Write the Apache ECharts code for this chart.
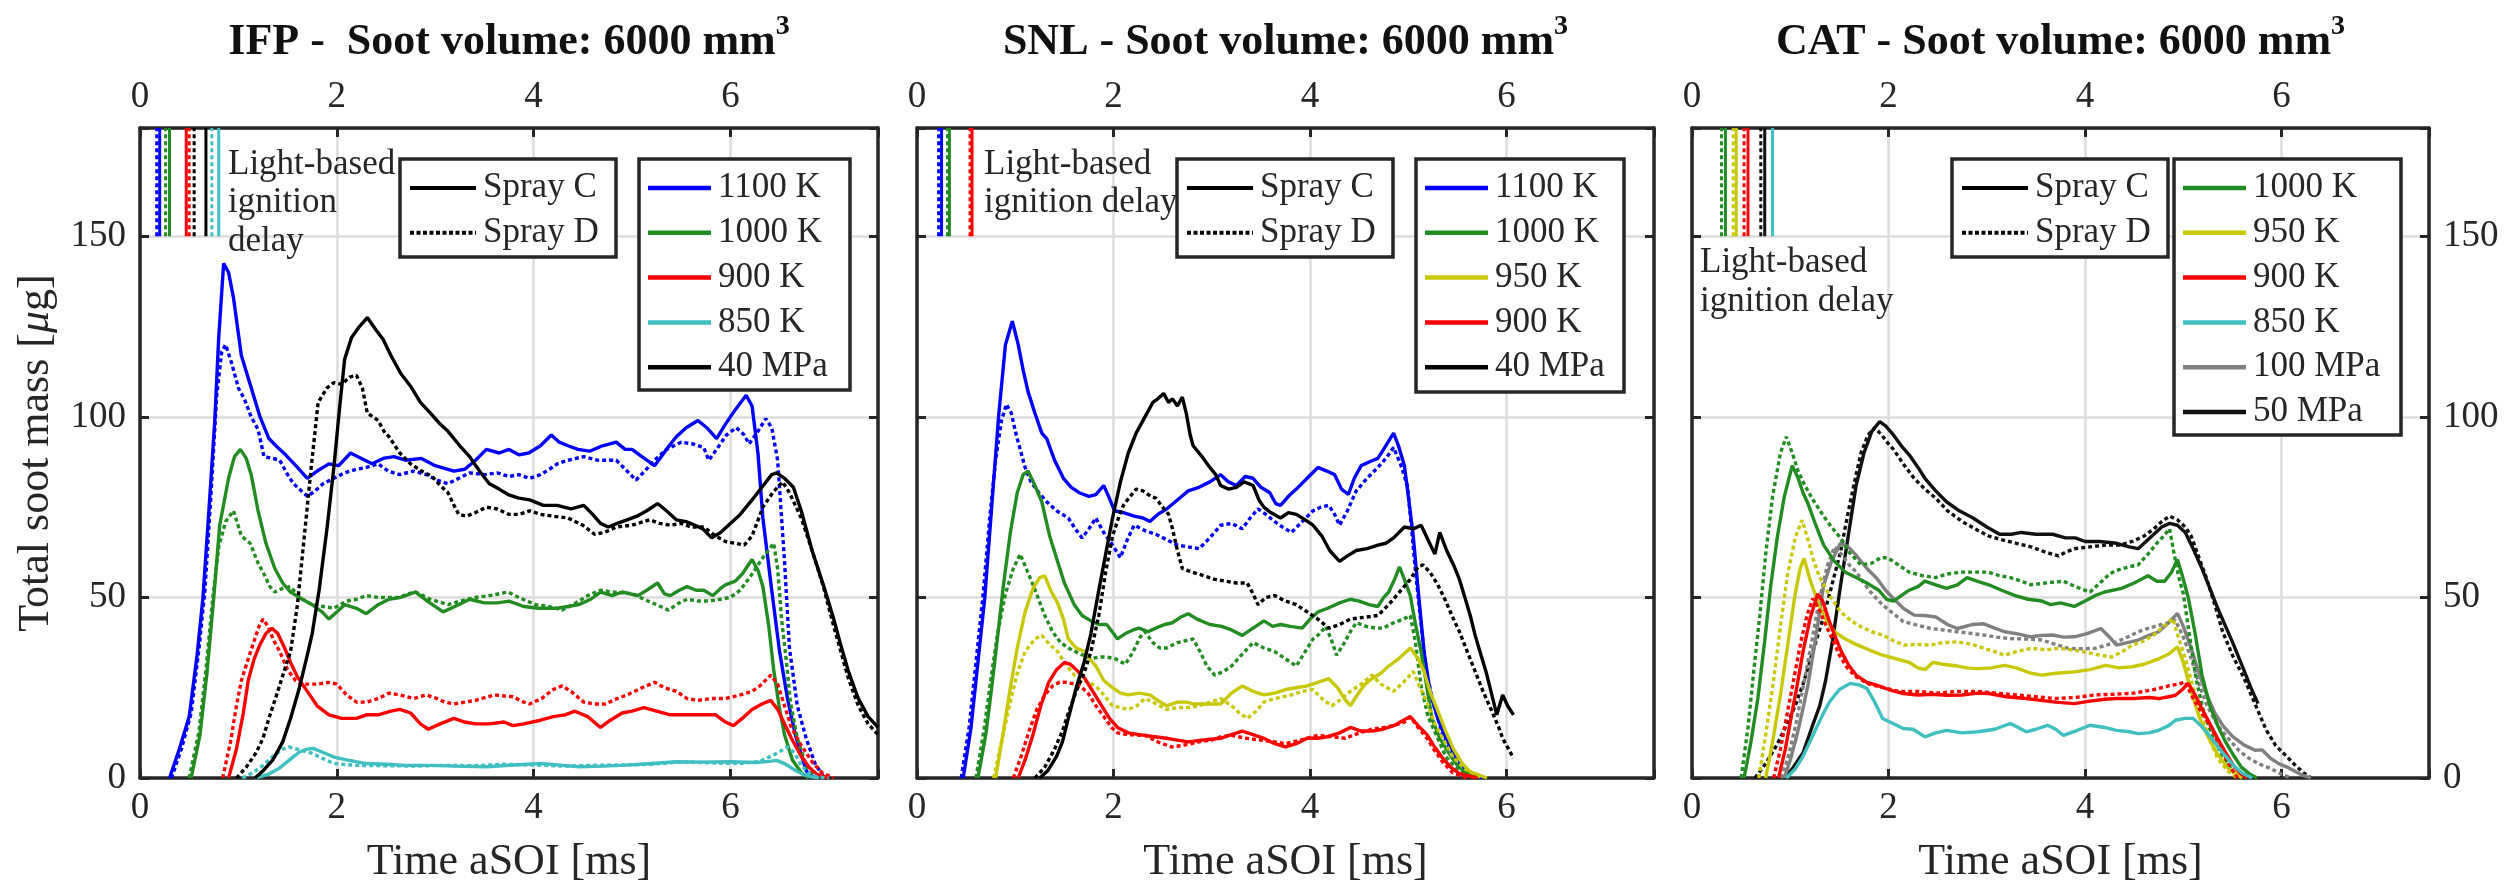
<!DOCTYPE html>
<html><head><meta charset="utf-8">
<script src="https://cdn.jsdelivr.net/npm/echarts@6/dist/echarts.min.js"></script>
<style>html,body{margin:0;padding:0;background:#fff}#c{width:2514px;height:888px}</style>
</head><body><div id="c"></div>
<script>
// ---------------- DATA ----------------
const X_TICK_STEP = 2;      // x ticks 0,2,4,6
const Y_TICK_STEP = 50;     // y ticks 0,50,100,150
const X_MAX = 7.5, Y_MAX = 180;

const TITLES = ['IFP -  Soot volume: 6000 mm', 'SNL - Soot volume: 6000 mm', 'CAT - Soot volume: 6000 mm'];
const IFP_LEGEND = ['1100 K', '1000 K', '900 K', '850 K', '40 MPa'];
const SNL_LEGEND = ['1100 K', '1000 K', '950 K', '900 K', '40 MPa'];
const CAT_LEGEND = ['1000 K', '950 K', '900 K', '850 K', '100 MPa', '50 MPa'];
const SPRAY_LEGEND = ['Spray C', 'Spray D'];

// IFP
const IFP_1100_C = [[0.3,0],[0.4,8],[0.5,17],[0.58,34],[0.64,50],[0.7,74],[0.76,99],[0.8,122],[0.85,142.5],[0.9,140],[0.95,133],[1.03,117],[1.12,109],[1.22,100],[1.31,94],[1.4,91.5],[1.48,89.5],[1.6,86],[1.7,83],[1.8,85],[1.92,87],[2.02,86.5],[2.14,90],[2.25,88.5],[2.36,87],[2.47,88.5],[2.58,89],[2.7,88],[2.86,88.5],[3.0,86.5],[3.19,85],[3.3,85.5],[3.41,88],[3.52,91],[3.65,90],[3.75,91],[3.85,89.5],[3.95,90],[4.07,92],[4.18,95],[4.26,93],[4.35,92],[4.45,91],[4.57,90.5],[4.7,92],[4.84,93],[4.93,91],[5.0,91],[5.1,89],[5.23,86.5],[5.35,91],[5.45,94.5],[5.55,97],[5.67,99],[5.76,97],[5.86,94],[5.95,98],[6.05,102],[6.16,106],[6.22,103],[6.28,90],[6.33,72],[6.42,52],[6.5,35],[6.58,22],[6.66,12],[6.77,2],[6.85,0]];
const IFP_1100_D = [[0.32,0],[0.42,8],[0.52,18],[0.6,36],[0.66,52],[0.72,78],[0.78,106],[0.83,118],[0.87,120],[0.93,115],[1.0,108],[1.06,105],[1.13,100],[1.2,96.5],[1.26,89],[1.35,88.5],[1.42,88],[1.5,84],[1.56,81.5],[1.7,78],[1.78,79.5],[1.86,81.5],[1.97,83],[2.08,84.5],[2.2,85.5],[2.3,86],[2.42,87],[2.52,85],[2.64,84],[2.78,85],[2.91,84],[3.02,82.5],[3.13,81.5],[3.24,83],[3.35,84.5],[3.5,84],[3.63,84.5],[3.75,83.5],[3.85,84],[3.96,83],[4.07,84],[4.16,85.5],[4.24,87],[4.35,88],[4.51,89],[4.65,88],[4.84,88],[4.95,85],[5.04,82.5],[5.13,85],[5.23,88],[5.35,91],[5.5,93],[5.62,92.5],[5.73,91.5],[5.78,88],[5.86,91],[5.96,95],[6.06,97],[6.14,95],[6.19,92.5],[6.28,96],[6.36,99.5],[6.42,97],[6.48,88],[6.55,60],[6.6,36],[6.68,20],[6.77,11],[6.86,4],[6.94,0.7],[7.0,0]];
const IFP_1000_C = [[0.52,0],[0.61,12],[0.68,29],[0.75,50],[0.81,70],[0.9,83],[0.96,89],[1.02,91],[1.08,88.5],[1.13,84],[1.2,74],[1.28,65],[1.37,58],[1.45,54],[1.53,51.5],[1.65,49.5],[1.75,48],[1.85,46],[1.92,44],[2.0,46],[2.08,48],[2.2,47],[2.3,45.5],[2.42,48],[2.53,49.5],[2.65,50],[2.8,51.5],[2.92,49],[3.08,46],[3.2,47.5],[3.35,49.5],[3.5,48.5],[3.63,48.5],[3.75,49],[3.9,47.5],[4.05,47],[4.24,47],[4.35,47.5],[4.46,48],[4.58,49.5],[4.68,51.5],[4.8,50.5],[4.9,51.5],[5.06,50.5],[5.15,52],[5.26,54],[5.33,51],[5.39,50.5],[5.48,52],[5.56,53],[5.65,52],[5.73,52],[5.82,50.5],[5.9,52.5],[5.95,53.5],[6.05,54.5],[6.12,56.5],[6.22,60.5],[6.28,57.5],[6.33,53],[6.39,42],[6.44,30],[6.5,19],[6.55,12],[6.63,5],[6.72,1.5],[6.8,0]];
const IFP_1000_D = [[0.5,0],[0.6,13],[0.67,30],[0.74,50],[0.8,64],[0.87,71],[0.95,74],[1.03,67],[1.12,65],[1.2,59.5],[1.26,56.5],[1.32,53],[1.37,51.5],[1.45,52.5],[1.53,53],[1.62,50],[1.75,48],[1.86,47.5],[1.97,47],[2.1,49],[2.2,49.5],[2.3,50.5],[2.42,50],[2.55,50],[2.64,50],[2.72,51],[2.8,51.5],[2.95,49.5],[3.13,48],[3.25,49],[3.41,50],[3.55,50.5],[3.74,51.5],[3.85,50],[4.02,48],[4.15,47.5],[4.29,46.5],[4.4,48],[4.55,50.5],[4.68,52],[4.8,51.5],[5.01,51],[5.12,49.5],[5.25,48],[5.37,46.5],[5.48,48.5],[5.56,49.5],[5.67,49],[5.78,49],[5.9,49.5],[6.0,50],[6.1,52],[6.22,56.5],[6.33,61],[6.44,65],[6.48,58],[6.52,44],[6.57,32],[6.61,21],[6.68,11],[6.77,3.5],[6.85,1],[6.92,0]];
const IFP_900_C = [[0.9,0],[0.98,8],[1.05,18],[1.1,27],[1.16,33],[1.22,37],[1.28,40],[1.34,41.5],[1.4,40],[1.47,36],[1.53,32],[1.6,28],[1.7,24],[1.8,20],[1.92,17.5],[2.05,16.5],[2.2,16.5],[2.3,17.5],[2.42,17.5],[2.55,18.5],[2.64,19],[2.75,18],[2.85,15],[2.93,13.5],[3.05,15],[3.19,16.5],[3.3,15.5],[3.41,15],[3.55,15],[3.7,15.5],[3.79,14.5],[3.9,15],[4.07,16],[4.2,17],[4.32,17.5],[4.42,18.5],[4.55,17],[4.68,14],[4.78,16],[4.9,18],[5.0,18.5],[5.12,19.5],[5.25,18.5],[5.39,17.5],[5.55,17.5],[5.73,17.5],[5.85,17.5],[5.95,15.5],[6.03,14.5],[6.12,16.5],[6.22,19],[6.32,20.5],[6.41,21.5],[6.48,19],[6.55,15],[6.62,11],[6.72,6],[6.8,3],[6.88,1],[7.0,0]];
const IFP_900_D = [[0.84,0],[0.92,10],[0.98,20],[1.03,27],[1.1,33],[1.16,38],[1.21,42],[1.25,44],[1.3,42],[1.36,38],[1.42,35],[1.5,30],[1.58,27],[1.64,26],[1.75,26],[1.81,26],[1.92,26.5],[2.0,26],[2.1,23],[2.2,21],[2.3,21],[2.42,22],[2.53,23.5],[2.64,23],[2.78,22],[2.91,23],[3.02,22],[3.1,21],[3.19,20.5],[3.3,21],[3.41,21.5],[3.6,23],[3.79,22.5],[3.9,21],[3.96,20.5],[4.08,22],[4.2,24.5],[4.29,25.5],[4.38,24],[4.51,21],[4.62,20.5],[4.73,20.5],[4.85,22],[4.95,23],[5.1,25],[5.23,26.5],[5.33,25],[5.45,24],[5.56,22],[5.67,21.5],[5.8,22],[5.95,22],[6.1,23],[6.22,24],[6.3,25.5],[6.41,28.5],[6.48,26],[6.55,20],[6.62,14],[6.72,9],[6.83,4.5],[6.93,1.5],[7.05,0]];
const IFP_850_C = [[1.17,0],[1.3,1],[1.42,2.8],[1.52,5],[1.62,7.2],[1.7,8],[1.76,8.2],[1.85,7.2],[1.97,5.8],[2.1,5],[2.3,4],[2.5,3.8],[2.7,3.5],[2.97,3.5],[3.2,3.3],[3.52,3.1],[3.8,3.6],[4.07,4],[4.3,3.5],[4.46,3.1],[4.7,3.3],[4.9,3.5],[5.2,4],[5.45,4.5],[5.7,4.4],[6.0,4.5],[6.25,4.3],[6.4,4.6],[6.47,4.9],[6.55,4],[6.66,2.1],[6.75,0.9],[6.83,0.3],[6.9,0]];
const IFP_850_D = [[1.04,0],[1.15,1.5],[1.25,3.5],[1.35,6],[1.45,8],[1.51,8.6],[1.6,8],[1.75,6.8],[1.85,5.5],[1.97,4],[2.2,3.5],[2.5,3.4],[2.8,3.3],[3.1,3.5],[3.4,3.4],[3.7,3.8],[4.0,3.6],[4.3,3.3],[4.6,3.5],[4.9,3.6],[5.2,3.8],[5.5,4.5],[5.8,4.2],[6.1,4],[6.3,4.6],[6.45,6.5],[6.58,8.6],[6.65,7],[6.72,3.5],[6.8,1.2],[6.88,0.3],[7.0,0]];
const IFP_40MPA_C = [[1.17,0],[1.25,2],[1.35,5],[1.45,10],[1.53,16.5],[1.62,25],[1.7,34],[1.75,40],[1.82,52],[1.9,69],[1.97,86],[2.03,103],[2.08,116],[2.15,122],[2.23,125],[2.31,127.5],[2.4,124],[2.47,121.5],[2.55,117],[2.65,112],[2.75,108.5],[2.85,104],[2.97,100.5],[3.05,98],[3.13,96],[3.25,92],[3.35,89],[3.45,85],[3.55,81.5],[3.65,80],[3.74,78.5],[3.85,77.5],[3.96,77],[4.1,75.5],[4.24,75.5],[4.38,74.5],[4.51,75.5],[4.6,73],[4.68,70.5],[4.76,69.5],[4.85,70.5],[4.95,71.5],[5.05,72.5],[5.15,74],[5.26,76],[5.35,74],[5.45,71.5],[5.55,71],[5.64,70],[5.72,69],[5.81,66.5],[5.9,68],[6.0,70.5],[6.1,73],[6.22,77],[6.32,80.5],[6.42,84],[6.47,84.5],[6.55,83],[6.64,80.5],[6.72,74],[6.83,63],[6.95,53],[7.05,44],[7.12,37],[7.2,29.5],[7.3,22],[7.4,17],[7.5,14]];
const IFP_40MPA_D = [[0.98,0],[1.08,3],[1.18,7],[1.25,11],[1.31,16.5],[1.4,24],[1.47,30],[1.53,35],[1.6,48],[1.67,67],[1.74,86],[1.81,104],[1.9,108],[1.97,109.5],[2.05,109],[2.13,111],[2.2,111.5],[2.26,108],[2.31,101],[2.37,100],[2.42,99],[2.48,96],[2.53,94.5],[2.64,90],[2.75,87],[2.86,85],[2.97,83.5],[3.05,81],[3.13,79],[3.2,75],[3.24,73],[3.32,72.5],[3.41,73.5],[3.52,75],[3.63,74.5],[3.75,73],[3.85,73],[3.96,74],[4.07,73],[4.2,72.5],[4.35,72],[4.5,70],[4.62,67.5],[4.72,68],[4.84,69.5],[5.0,70],[5.18,71.5],[5.28,70.5],[5.39,70],[5.5,70.5],[5.6,69.5],[5.73,69.5],[5.85,67],[5.95,65.5],[6.05,65],[6.14,64.5],[6.22,67],[6.33,75],[6.43,79],[6.53,82],[6.6,79],[6.72,72],[6.83,63],[6.94,53.5],[7.05,42],[7.2,27.5],[7.3,20],[7.4,15],[7.5,12]];
// ignition delay marks: [condition, spray, time ms]
const IFP_IGN = [['1100 K','D',0.17],['1100 K','C',0.20],['1000 K','D',0.26],['1000 K','C',0.30],['900 K','C',0.47],['900 K','D',0.50],['40 MPa','D',0.55],['40 MPa','C',0.67],['850 K','D',0.73],['850 K','C',0.80]];

// SNL
const SNL_1100_C = [[0.47,0],[0.55,14],[0.62,32],[0.69,50],[0.76,75],[0.83,100],[0.9,120],[0.97,126.5],[1.03,120],[1.08,113],[1.13,107],[1.2,101],[1.27,95.5],[1.32,94],[1.4,88],[1.49,83],[1.57,80.5],[1.65,79],[1.75,78],[1.82,78.5],[1.9,81],[1.95,78],[2.01,74],[2.1,73.5],[2.21,72.5],[2.3,72],[2.37,71],[2.45,73],[2.54,74.5],[2.65,77],[2.76,79.5],[2.87,80.5],[2.98,82],[3.09,84],[3.17,82],[3.25,81],[3.34,83.5],[3.42,83],[3.5,80.5],[3.59,79],[3.65,76],[3.7,75.5],[3.78,78],[3.86,80],[3.97,83],[4.08,86],[4.17,85],[4.25,84],[4.32,80],[4.39,78.5],[4.45,83],[4.52,86.5],[4.6,87.5],[4.69,88.5],[4.77,92],[4.85,95.5],[4.9,92],[4.96,86.5],[5.0,78],[5.05,67],[5.1,52],[5.16,35],[5.22,24],[5.3,16.5],[5.38,11],[5.46,7],[5.55,3.5],[5.63,1.5],[5.75,0]];
const SNL_1100_D = [[0.45,0],[0.53,14],[0.6,32],[0.67,50],[0.74,72],[0.8,88],[0.86,99],[0.91,103.5],[0.96,101],[1.01,95],[1.05,91],[1.1,86],[1.16,82],[1.24,79],[1.32,76.5],[1.42,74],[1.54,72],[1.61,69],[1.68,66.5],[1.75,69],[1.82,72],[1.9,68],[1.99,64.5],[2.07,61],[2.14,66],[2.21,70],[2.32,68.5],[2.43,67.5],[2.54,66],[2.65,64.5],[2.76,64],[2.87,63.5],[2.98,66.5],[3.09,70],[3.2,70.5],[3.31,69],[3.39,72],[3.47,74.5],[3.55,73],[3.64,71],[3.72,69.5],[3.81,68],[3.92,71],[4.03,74],[4.11,75],[4.19,75.5],[4.25,73],[4.3,70],[4.38,74],[4.47,79.5],[4.58,83],[4.69,86],[4.77,88.5],[4.85,91.5],[4.92,87],[4.99,81],[5.03,70],[5.07,58],[5.12,45],[5.18,30],[5.26,20],[5.35,12],[5.44,7],[5.52,3.5],[5.6,1.3],[5.7,0]];
const SNL_1000_C = [[0.62,0],[0.7,12],[0.76,25],[0.82,39],[0.88,53.5],[0.95,68],[1.02,79],[1.08,84],[1.13,85],[1.2,81],[1.27,76.5],[1.35,67],[1.43,60],[1.5,54],[1.6,48],[1.68,45],[1.77,43.5],[1.85,42.5],[1.93,42.5],[2.0,40],[2.04,38.5],[2.12,40],[2.2,41],[2.26,41.5],[2.35,40.5],[2.43,41.5],[2.52,42.5],[2.6,43],[2.68,44.5],[2.76,45.5],[2.85,44],[2.98,42.5],[3.1,42],[3.2,41],[3.31,39.5],[3.42,41.5],[3.53,43.5],[3.62,42],[3.7,42.5],[3.8,42],[3.92,41.5],[4.0,44],[4.08,46],[4.18,47],[4.3,48.5],[4.41,49.5],[4.5,49],[4.6,48],[4.69,47.5],[4.75,50],[4.8,51.5],[4.86,55],[4.91,58.5],[4.96,55],[5.02,50.5],[5.07,43],[5.13,35],[5.19,25],[5.24,16.5],[5.32,11],[5.41,7],[5.5,3.5],[5.57,1.7],[5.7,0]];
const SNL_1000_D = [[0.6,0],[0.68,13],[0.75,27],[0.82,40],[0.9,51],[0.98,58],[1.05,62],[1.12,57.5],[1.21,51.5],[1.3,45],[1.38,40.5],[1.46,37.5],[1.54,36],[1.65,34.5],[1.77,33],[1.85,33.5],[1.93,33.5],[2.02,33],[2.12,31.5],[2.2,35],[2.27,39],[2.32,40.5],[2.4,37.5],[2.47,36],[2.54,36],[2.65,37.5],[2.73,38],[2.81,38.5],[2.88,35],[2.95,31],[3.03,28.5],[3.12,29.5],[3.2,31],[3.3,34],[3.42,37.5],[3.53,36],[3.64,35],[3.75,33],[3.86,31],[3.95,35],[4.03,38.5],[4.1,40],[4.16,42],[4.22,38],[4.27,34],[4.35,37.5],[4.42,41],[4.47,43],[4.57,42],[4.67,41.5],[4.74,41.5],[4.85,43],[4.95,44],[5.02,45],[5.07,38],[5.13,25.5],[5.2,17],[5.3,11],[5.38,6],[5.46,3.5],[5.55,1.3],[5.7,0]];
const SNL_950_C = [[0.8,0],[0.88,13],[0.95,25],[1.02,36],[1.1,46],[1.18,52.5],[1.25,55.5],[1.3,56],[1.36,52],[1.43,48.5],[1.49,44],[1.54,38.5],[1.62,36],[1.71,35],[1.76,33],[1.82,31],[1.9,27],[1.99,25],[2.07,23.5],[2.15,23],[2.26,23.5],[2.37,23],[2.45,21.5],[2.54,20],[2.65,21],[2.74,21],[2.81,20.5],[2.95,20.5],[3.09,20.5],[3.2,23.5],[3.31,25.5],[3.42,24],[3.53,23],[3.64,23.5],[3.75,24.5],[3.86,25],[3.97,25.5],[4.08,26.5],[4.19,27.5],[4.28,25],[4.35,22],[4.41,20],[4.48,23],[4.56,26],[4.63,27.5],[4.72,29],[4.8,31],[4.9,33],[4.96,34.5],[5.02,36],[5.1,33],[5.16,29.5],[5.22,24],[5.3,18.5],[5.38,13],[5.46,8],[5.55,4],[5.63,1.7],[5.8,0]];
const SNL_950_D = [[0.78,0],[0.86,10],[0.94,20],[1.02,29],[1.1,35],[1.2,38.5],[1.27,39.5],[1.35,37],[1.43,35],[1.5,32],[1.6,28.5],[1.7,27],[1.82,25.5],[1.9,23],[1.99,20],[2.07,19.5],[2.15,19],[2.24,20],[2.32,22],[2.4,21],[2.54,19],[2.65,19.5],[2.76,19.5],[2.87,20],[2.98,21],[3.09,22],[3.2,20],[3.28,18],[3.36,16.5],[3.45,18.5],[3.53,21],[3.64,22],[3.81,23],[3.92,24],[4.03,24.5],[4.12,22],[4.22,20],[4.3,21.5],[4.41,24],[4.52,26],[4.63,28.5],[4.72,26],[4.85,24],[4.95,26.5],[5.05,29.5],[5.12,25],[5.19,21],[5.27,15],[5.35,11],[5.45,6],[5.57,2.6],[5.75,0]];
const SNL_900_C = [[1.03,0],[1.1,5],[1.18,12],[1.26,20],[1.34,26.5],[1.42,30],[1.5,32],[1.56,31.5],[1.64,29.5],[1.71,27.5],[1.8,23.5],[1.88,20],[1.96,16.5],[2.04,14],[2.15,12.5],[2.26,12],[2.4,11.5],[2.54,11],[2.65,10.5],[2.76,10],[2.9,10.5],[3.09,11],[3.2,12],[3.31,13],[3.42,12],[3.53,11],[3.64,9.5],[3.75,8.6],[3.86,9.5],[3.97,11],[4.08,11],[4.19,11.5],[4.3,12.5],[4.41,14],[4.52,13],[4.63,13],[4.74,13.5],[4.85,14.5],[4.95,16],[5.02,17],[5.1,14.5],[5.19,12],[5.27,8.5],[5.35,5.5],[5.43,3],[5.52,1.2],[5.7,0]];
const SNL_900_D = [[0.98,0],[1.06,6],[1.14,13],[1.22,19],[1.3,23],[1.38,25.5],[1.45,26.5],[1.52,26.5],[1.6,26],[1.66,25.5],[1.74,23.5],[1.82,20],[1.9,17],[1.98,14],[2.04,12.5],[2.15,12],[2.32,11.8],[2.45,10],[2.59,8.6],[2.7,9],[2.87,10],[3.0,10.5],[3.1,11.5],[3.2,11.8],[3.35,11],[3.53,10.4],[3.64,10],[3.75,9.5],[3.9,10.5],[4.08,11.8],[4.2,11.5],[4.36,11],[4.5,12.5],[4.63,13.5],[4.75,14],[4.85,14.5],[4.96,15.5],[5.02,16.9],[5.1,14],[5.19,11],[5.27,7.5],[5.35,4.4],[5.45,1.5],[5.6,0]];
const SNL_40MPA_C = [[1.25,0],[1.33,2],[1.42,6],[1.48,10],[1.54,16.5],[1.62,25],[1.7,32],[1.77,40],[1.85,52],[1.92,62],[1.99,72],[2.07,82],[2.15,90],[2.23,95.5],[2.32,100],[2.4,104],[2.45,105],[2.51,106.5],[2.56,104],[2.6,105],[2.65,103],[2.7,105.5],[2.74,101],[2.78,95],[2.81,92],[2.9,89],[2.98,86],[3.04,84],[3.09,81],[3.17,80],[3.25,80.5],[3.33,82],[3.42,81],[3.48,77],[3.53,75],[3.6,73.5],[3.7,72],[3.78,73.5],[3.86,73],[3.95,71.5],[4.03,70],[4.12,67],[4.2,63],[4.3,60],[4.38,61.5],[4.47,63],[4.58,63.5],[4.69,64.5],[4.77,65],[4.85,66.5],[4.96,69.5],[5.05,69],[5.13,70],[5.2,66],[5.27,62],[5.32,68],[5.39,63],[5.46,59],[5.52,55],[5.57,50.5],[5.63,45],[5.68,39.5],[5.74,34],[5.79,29.5],[5.85,23],[5.9,17.5],[5.96,23],[6.01,20],[6.07,17.5]];
const SNL_40MPA_D = [[1.2,0],[1.3,3],[1.4,8],[1.48,13],[1.54,18],[1.62,24],[1.7,29],[1.77,35],[1.85,45],[1.92,57],[1.99,67],[2.05,72],[2.1,75.5],[2.17,78],[2.23,80],[2.3,79.5],[2.38,78],[2.43,77.5],[2.5,75],[2.56,73],[2.6,69],[2.65,63],[2.7,58],[2.8,57],[2.92,56],[3.03,55],[3.14,54.5],[3.25,54],[3.36,54],[3.42,51],[3.47,48],[3.55,50],[3.64,50.5],[3.75,49],[3.86,48],[3.97,46],[4.08,44],[4.19,41.5],[4.3,42.5],[4.41,44],[4.55,44.5],[4.69,45],[4.8,48],[4.91,51.5],[5.02,55],[5.1,58.5],[5.15,59],[5.22,57],[5.3,53.5],[5.38,49],[5.46,44],[5.52,40.5],[5.6,35],[5.68,29.5],[5.76,24],[5.85,18.5],[5.92,14],[5.96,11],[6.02,8],[6.07,5.5]];
const SNL_IGN = [['1100 K','D',0.22],['1100 K','C',0.25],['1000 K','D',0.31],['1000 K','C',0.33],['900 K','D',0.54],['900 K','C',0.56]];

// CAT
const CAT_1000_C = [[0.53,0],[0.6,10],[0.67,22],[0.74,38],[0.8,53],[0.87,67],[0.94,78],[1.02,86.5],[1.08,83],[1.13,79],[1.18,76],[1.26,70],[1.34,64.5],[1.45,60],[1.56,57],[1.67,55.5],[1.78,54],[1.9,52],[1.98,49.5],[2.05,49],[2.13,50.5],[2.21,52],[2.3,53],[2.37,54.5],[2.48,53.5],[2.59,52.5],[2.7,53.5],[2.8,55.5],[2.9,54.5],[3.02,53.5],[3.15,52],[3.29,50.5],[3.42,49.5],[3.56,49],[3.65,48],[3.75,48.5],[3.89,47.5],[4.0,49],[4.1,50.5],[4.2,51.5],[4.37,52.5],[4.5,54],[4.64,56],[4.73,54.5],[4.81,54.5],[4.88,57],[4.94,60.5],[4.99,56],[5.05,50],[5.12,40],[5.19,28.5],[5.27,20],[5.35,14.5],[5.43,10],[5.51,6.3],[5.59,3],[5.67,1.2],[5.75,0]];
const CAT_1000_D = [[0.5,0],[0.57,14],[0.63,30],[0.69,45],[0.75,62],[0.82,78],[0.9,90],[0.96,94.5],[1.02,90],[1.08,85],[1.13,82],[1.22,77.5],[1.34,72.5],[1.42,69.5],[1.51,66.5],[1.6,62.5],[1.72,59],[1.83,59.5],[1.92,61],[1.99,61],[2.1,59],[2.21,57],[2.35,56],[2.48,55.5],[2.6,56.5],[2.75,57],[2.9,57],[3.02,57],[3.13,56],[3.24,55.5],[3.35,54.5],[3.45,53.5],[3.6,54],[3.78,54.5],[3.9,53],[4.05,51.5],[4.15,54],[4.25,56.5],[4.32,57.5],[4.45,58.5],[4.54,59],[4.64,62],[4.73,65],[4.8,67],[4.86,69],[4.9,63],[4.95,56],[5.0,51],[5.06,40],[5.13,27.5],[5.2,19],[5.29,12],[5.4,6],[5.51,1.7],[5.6,0]];
const CAT_950_C = [[0.75,0],[0.82,10],[0.9,23],[0.98,38],[1.05,51],[1.1,58],[1.14,60.8],[1.2,55],[1.29,48],[1.37,43.5],[1.45,40.5],[1.56,38.5],[1.67,37],[1.8,35.5],[1.94,34],[2.08,33],[2.21,32],[2.3,30.5],[2.37,30],[2.45,32],[2.55,31.5],[2.7,31],[2.8,30.5],[2.91,30.3],[3.05,30.5],[3.18,31.2],[3.3,30.5],[3.45,29],[3.56,28.5],[3.7,29],[3.89,29.4],[4.05,30],[4.21,31.2],[4.35,30.5],[4.48,30.8],[4.6,31.5],[4.75,33],[4.86,34.5],[4.94,36.3],[5.0,32],[5.08,24],[5.16,17],[5.24,12],[5.35,6.5],[5.46,2.6],[5.6,0]];
const CAT_950_D = [[0.68,0],[0.75,12],[0.83,27],[0.9,42],[0.97,56],[1.05,66.5],[1.12,71.4],[1.18,66],[1.24,60],[1.29,56.2],[1.4,50.5],[1.51,46.1],[1.62,43.5],[1.72,41.9],[1.83,40.5],[1.94,39.6],[2.05,38],[2.16,36.8],[2.3,37],[2.43,36.8],[2.55,37.5],[2.7,37.7],[2.85,37],[2.97,35.9],[3.08,35],[3.18,34],[3.3,35],[3.45,35.9],[3.6,35.5],[3.73,35.9],[3.87,35.5],[4.0,34.9],[4.15,34],[4.27,33.5],[4.38,35],[4.48,36.8],[4.6,38],[4.7,39.6],[4.8,42],[4.89,44.2],[4.95,39],[5.02,33.1],[5.1,25],[5.19,16.5],[5.27,10.5],[5.35,5.4],[5.45,2],[5.55,0]];
const CAT_900_C = [[0.88,0],[0.95,8],[1.01,17],[1.07,25.7],[1.13,35],[1.2,44],[1.28,51],[1.33,49],[1.39,44],[1.45,39.6],[1.52,35],[1.6,31],[1.67,28.5],[1.78,26.5],[1.88,25.7],[2.0,24.5],[2.15,23.4],[2.3,23],[2.45,23.2],[2.59,22.9],[2.75,23],[2.9,23.5],[3.02,23.4],[3.2,22.5],[3.4,22],[3.55,21.5],[3.7,21],[3.89,20.6],[4.05,21.3],[4.2,21.8],[4.32,22],[4.5,22],[4.65,22.3],[4.75,22],[4.85,22.5],[4.92,22.9],[4.99,24.5],[5.05,26.2],[5.12,23],[5.19,19.2],[5.27,15],[5.35,10.9],[5.43,7],[5.51,3.5],[5.58,1.3],[5.65,0]];
const CAT_900_D = [[0.83,0],[0.9,8],[0.97,18],[1.04,28],[1.11,38],[1.17,45],[1.23,49.7],[1.29,47],[1.35,43],[1.42,39],[1.5,34],[1.58,30.5],[1.67,28],[1.8,26],[1.95,25],[2.1,24],[2.3,24],[2.5,23.5],[2.7,24],[2.9,24],[3.1,23.5],[3.3,23],[3.5,22.5],[3.7,22],[3.9,22.3],[4.1,23],[4.3,23.2],[4.5,23.5],[4.7,24.5],[4.85,25.5],[4.95,26],[5.02,26.6],[5.1,22],[5.19,18],[5.29,13.7],[5.38,8],[5.46,4],[5.55,0]];
const CAT_850_C = [[0.96,0],[1.05,2.5],[1.13,6],[1.23,11.8],[1.32,17],[1.4,21.1],[1.5,24.5],[1.61,26.2],[1.7,25.8],[1.78,24.8],[1.86,21],[1.94,16.5],[2.05,15],[2.15,13.7],[2.25,13.5],[2.37,11.4],[2.48,12.5],[2.59,13.2],[2.75,12.5],[2.91,12.8],[3.08,13.5],[3.24,15.1],[3.32,14],[3.4,12.8],[3.5,13.5],[3.62,14.6],[3.7,13.5],[3.78,11.8],[3.9,13],[4.05,14.6],[4.2,14],[4.32,13.2],[4.45,12.8],[4.54,12.3],[4.65,12.5],[4.75,13.2],[4.85,14.5],[4.92,16],[5.02,16.5],[5.1,16.5],[5.18,14.5],[5.29,10.9],[5.4,7],[5.51,3.5],[5.6,1.3],[5.7,0]];
const CAT_100MPA_C = [[0.94,0],[1.0,5],[1.06,11],[1.12,18],[1.18,25.7],[1.26,39],[1.34,53.4],[1.42,60],[1.51,65],[1.59,64],[1.67,61.7],[1.78,58],[1.88,55.3],[1.97,52],[2.05,49.7],[2.15,47],[2.26,45.1],[2.37,45],[2.48,44.6],[2.6,42.5],[2.7,41.4],[2.85,42.5],[2.97,42.7],[3.08,41.5],[3.18,40.5],[3.3,40],[3.45,39.1],[3.56,39.5],[3.67,39.6],[3.78,39],[3.89,39.1],[4.02,40],[4.16,41.4],[4.25,39],[4.32,36.8],[4.43,37.5],[4.54,38.2],[4.65,39.5],[4.75,40.5],[4.85,43],[4.94,45.6],[5.0,42],[5.08,35.9],[5.16,29],[5.24,22.9],[5.32,18],[5.4,14.6],[5.5,11.5],[5.62,9.1],[5.73,7.7],[5.8,7.8],[5.89,5.4],[5.97,4],[6.05,3.1],[6.14,1.8],[6.22,0.7],[6.3,0]];
const CAT_100MPA_D = [[0.91,0],[0.98,6],[1.05,14],[1.13,25],[1.22,38],[1.3,50],[1.38,59],[1.45,64],[1.52,62],[1.6,59],[1.67,57.1],[1.8,52],[1.94,47.9],[2.05,45.5],[2.15,43.3],[2.3,42.3],[2.43,41.4],[2.56,41],[2.7,40.5],[2.85,40],[2.97,39.6],[3.1,39],[3.24,38.6],[3.4,38.5],[3.56,38.2],[3.7,37],[3.83,35.9],[3.95,35.8],[4.1,35.9],[4.22,36.8],[4.32,37.7],[4.43,39],[4.54,40.5],[4.65,41.5],[4.75,42.3],[4.85,43],[4.92,43.7],[5.0,39],[5.08,33.1],[5.16,26],[5.24,20.1],[5.35,14.5],[5.46,10.9],[5.57,7.5],[5.67,5.4],[5.78,3.8],[5.89,2.6],[6.0,1],[6.1,0]];
const CAT_50MPA_C = [[0.94,0],[1.02,2.5],[1.13,7],[1.22,14],[1.3,20],[1.36,27],[1.43,38],[1.51,53],[1.59,67],[1.67,81],[1.75,90],[1.83,96],[1.91,98.7],[1.97,97.5],[2.05,95],[2.13,92],[2.21,89.5],[2.3,86],[2.37,83],[2.48,79.5],[2.59,76.5],[2.72,74],[2.86,72],[3.0,69.5],[3.13,67.5],[3.25,67.5],[3.35,68],[3.5,67.5],[3.67,67.5],[3.8,66.5],[3.9,66.5],[4.0,65.5],[4.15,65.5],[4.32,65],[4.45,64],[4.54,63.5],[4.62,65.5],[4.7,67.5],[4.78,69.5],[4.86,70.5],[4.94,70],[5.02,68],[5.1,63.5],[5.19,58],[5.27,52.5],[5.35,47],[5.43,42],[5.51,37],[5.6,31],[5.68,25.5],[5.76,20.6]];
const CAT_50MPA_D = [[0.64,0],[0.75,4],[0.86,9],[0.96,14.5],[1.05,20],[1.13,26],[1.23,35],[1.32,43],[1.41,52],[1.51,62.5],[1.6,75],[1.67,84],[1.72,90],[1.79,95],[1.86,97],[1.93,95],[2.0,92.5],[2.05,91],[2.15,87],[2.26,83],[2.37,80],[2.48,77.5],[2.6,74],[2.75,71],[2.88,69],[3.02,67],[3.15,66],[3.3,65],[3.45,64],[3.6,62.5],[3.73,61.5],[3.8,62.5],[3.89,63.5],[4.05,64],[4.21,64.5],[4.35,64.5],[4.48,65.5],[4.6,67],[4.7,69],[4.78,71],[4.86,72.5],[4.94,71.5],[5.02,69.5],[5.08,67],[5.16,61],[5.24,55],[5.32,48],[5.4,40.5],[5.5,34],[5.62,27.5],[5.73,20.5],[5.84,13.5],[5.94,9],[6.05,6],[6.14,3.5],[6.22,1.5],[6.3,0]];
const CAT_IGN = [['1000 K','D',0.30],['1000 K','C',0.34],['950 K','D',0.42],['950 K','C',0.45],['900 K','D',0.53],['900 K','C',0.57],['50 MPa','D',0.70],['50 MPa','C',0.74],['850 K','C',0.82]];

const IGN_TEXT = [['Light-based','ignition','delay'], ['Light-based','ignition delay'], ['Light-based','ignition delay']];
const IGN_RANGE = [150, 180];

// ---------------- STYLE / LAYOUT ----------------
const FONT = "'Liberation Serif', 'Times New Roman', serif";
const INK = '#262626';
const COLORS = {'1100 K':'#0000ff','1000 K':'#228b22','950 K':'#c8c800','900 K':'#ff0000','850 K':'#3fbfbf','40 MPa':'#000000','100 MPa':'#808080','50 MPa':'#111111'};
const DOT = [4, 3];
const LW = 3.4;

const PANELS = [
  { legend: IFP_LEGEND, ign: IFP_IGN, curves: [
      ['1100 K','C',IFP_1100_C],['1100 K','D',IFP_1100_D],['1000 K','C',IFP_1000_C],['1000 K','D',IFP_1000_D],
      ['900 K','C',IFP_900_C],['900 K','D',IFP_900_D],['850 K','C',IFP_850_C],['850 K','D',IFP_850_D],
      ['40 MPa','C',IFP_40MPA_C],['40 MPa','D',IFP_40MPA_D]] },
  { legend: SNL_LEGEND, ign: SNL_IGN, curves: [
      ['1100 K','C',SNL_1100_C],['1100 K','D',SNL_1100_D],['1000 K','C',SNL_1000_C],['1000 K','D',SNL_1000_D],
      ['950 K','C',SNL_950_C],['950 K','D',SNL_950_D],['900 K','C',SNL_900_C],['900 K','D',SNL_900_D],
      ['40 MPa','C',SNL_40MPA_C],['40 MPa','D',SNL_40MPA_D]] },
  { legend: CAT_LEGEND, ign: CAT_IGN, curves: [
      ['50 MPa','C',CAT_50MPA_C],['50 MPa','D',CAT_50MPA_D],['100 MPa','C',CAT_100MPA_C],['100 MPa','D',CAT_100MPA_D],
      ['1000 K','C',CAT_1000_C],['1000 K','D',CAT_1000_D],['950 K','C',CAT_950_C],['950 K','D',CAT_950_D],
      ['900 K','C',CAT_900_C],['900 K','D',CAT_900_D],['850 K','C',CAT_850_C]] }
];

const GEOM = [
  { left:140, width:738, ignX:228, ignY:[165,203,242], boxA:{x:400,y:159,w:216,h:98}, boxB:{x:639,y:159,w:211,h:231} },
  { left:917, width:737, ignX:984, ignY:[165,203], boxA:{x:1177,y:159,w:216,h:98}, boxB:{x:1416,y:159,w:208,h:233} },
  { left:1692, width:737, ignX:1700, ignY:[263,302], boxA:{x:1952,y:159,w:216,h:98}, boxB:{x:2174,y:159,w:227,h:276} }
];
const GRID_TOP = 128, GRID_H = 650;

// ---------------- BUILD ----------------
const grids = [], xAxes = [], yAxes = [], series = [], graphics = [];
const tickFmtX = v => (v % X_TICK_STEP === 0 ? String(v) : '');
const tickFmtY = v => (v % Y_TICK_STEP === 0 ? String(v) : '');

PANELS.forEach((p, i) => {
  const g = GEOM[i];
  grids.push({ left: g.left, top: GRID_TOP, width: g.width, height: GRID_H, outerBoundsMode: 'none', containLabel: false });
  const axLine = { show: true, onZero: false, lineStyle: { color: INK, width: 3.5 } };
  const axTick = { show: true, inside: true, length: 9, lineStyle: { color: INK, width: 3 } };
  const lblX = { fontFamily: FONT, fontSize: 37, color: INK, margin: 12, formatter: tickFmtX };
  xAxes.push({ gridIndex: i, type: 'value', min: 0, max: X_MAX, interval: X_TICK_STEP, position: 'bottom',
    axisLine: axLine, axisTick: axTick, axisLabel: lblX,
    splitLine: { show: true, lineStyle: { color: '#dcdcdc', width: 2.5 } },
    name: 'Time aSOI [ms]', nameLocation: 'middle', nameGap: 62,
    nameTextStyle: { fontFamily: FONT, fontSize: 44, color: INK } });
  xAxes.push({ gridIndex: i, type: 'value', min: 0, max: X_MAX, interval: X_TICK_STEP, position: 'top',
    axisLine: axLine, axisTick: axTick, axisLabel: Object.assign({}, lblX, { margin: 12 }), splitLine: { show: false } });
  yAxes.push({ gridIndex: i, type: 'value', min: 0, max: Y_MAX, interval: Y_TICK_STEP, position: 'left',
    axisLine: axLine, axisTick: axTick,
    axisLabel: { show: i === 0, fontFamily: FONT, fontSize: 37, color: INK, margin: 14, formatter: tickFmtY },
    splitLine: { show: true, lineStyle: { color: '#dcdcdc', width: 2.5 } },
    name: i === 0 ? '{a|Total soot mass [}{m|μ}{a|g]}' : '', nameLocation: 'middle', nameGap: 82,
    nameTextStyle: { rich: {
      a: { fontFamily: FONT, fontSize: 44, color: INK },
      m: { fontFamily: FONT, fontSize: 44, color: INK, fontStyle: 'italic' } } } });
  yAxes.push({ gridIndex: i, type: 'value', min: 0, max: Y_MAX, interval: Y_TICK_STEP, position: 'right',
    axisLine: axLine, axisTick: axTick,
    axisLabel: { show: i === 2, fontFamily: FONT, fontSize: 37, color: INK, margin: 14, formatter: tickFmtY },
    splitLine: { show: false } });

  // ignition delay marks
  p.ign.forEach(([cond, spray, t]) => {
    series.push({ type: 'line', name: 'ign ' + cond + ' ' + spray, xAxisIndex: 2 * i, yAxisIndex: 2 * i,
      data: [[t, IGN_RANGE[0]], [t, IGN_RANGE[1]]], symbol: 'none', silent: true, z: 3,
      lineStyle: { color: COLORS[cond], width: 3, type: spray === 'D' ? DOT : 'solid' } });
  });
  // curves
  p.curves.forEach(([cond, spray, data]) => {
    series.push({ type: 'line', name: cond + ' Spray ' + spray, xAxisIndex: 2 * i, yAxisIndex: 2 * i,
      data: data, symbol: 'none', showSymbol: false, silent: true, z: 2,
      lineStyle: { color: COLORS[cond], width: LW, type: spray === 'D' ? DOT : 'solid' } });
  });

  // title
  graphics.push({ type: 'text', x: g.left + g.width / 2, y: 43, z: 50,
    style: { text: '{m|' + TITLES[i] + '}{s|3}', align: 'center', verticalAlign: 'middle',
      rich: { m: { fontFamily: FONT, fontSize: 44, fontWeight: 'bold', fill: '#111', lineHeight: 60 },
              s: { fontFamily: FONT, fontSize: 28, fontWeight: 'bold', fill: '#111', lineHeight: 20, verticalAlign: 'top' } } } });

  // ignition text
  IGN_TEXT[i].forEach((s, k) => {
    graphics.push({ type: 'text', x: g.ignX, y: g.ignY[k], z: 50,
      style: { text: s, fontFamily: FONT, fontSize: 35, fill: INK, align: 'left', verticalAlign: 'middle' } });
  });

  // legend boxes
  const bA = g.boxA, bB = g.boxB, rowH = 44.8;
  [bA, bB].forEach(b => graphics.push({ type: 'rect', z: 60, shape: { x: b.x, y: b.y, width: b.w, height: b.h },
    style: { fill: '#fff', stroke: INK, lineWidth: 3.5 } }));
  SPRAY_LEGEND.forEach((s, k) => {
    const y = bA.y + 29 + k * rowH;
    graphics.push({ type: 'line', z: 61, shape: { x1: bA.x + 10, y1: y, x2: bA.x + 76, y2: y },
      style: { stroke: '#000', lineWidth: 4, lineDash: k === 1 ? [4, 2.5] : null } });
    graphics.push({ type: 'text', z: 61, x: bA.x + 83, y: y,
      style: { text: s, fontFamily: FONT, fontSize: 35, fill: INK, align: 'left', verticalAlign: 'middle' } });
  });
  p.legend.forEach((s, k) => {
    const y = bB.y + 29 + k * rowH;
    graphics.push({ type: 'line', z: 61, shape: { x1: bB.x + 9, y1: y, x2: bB.x + 72, y2: y },
      style: { stroke: COLORS[s], lineWidth: 4.5 } });
    graphics.push({ type: 'text', z: 61, x: bB.x + 79, y: y,
      style: { text: s, fontFamily: FONT, fontSize: 35, fill: INK, align: 'left', verticalAlign: 'middle' } });
  });
});

const chart = echarts.init(document.getElementById('c'), null, { renderer: 'canvas', width: 2514, height: 888 });
chart.setOption({
  backgroundColor: '#ffffff',
  animation: false,
  grid: grids, xAxis: xAxes, yAxis: yAxes, series: series, graphic: graphics
});
</script></body></html>
